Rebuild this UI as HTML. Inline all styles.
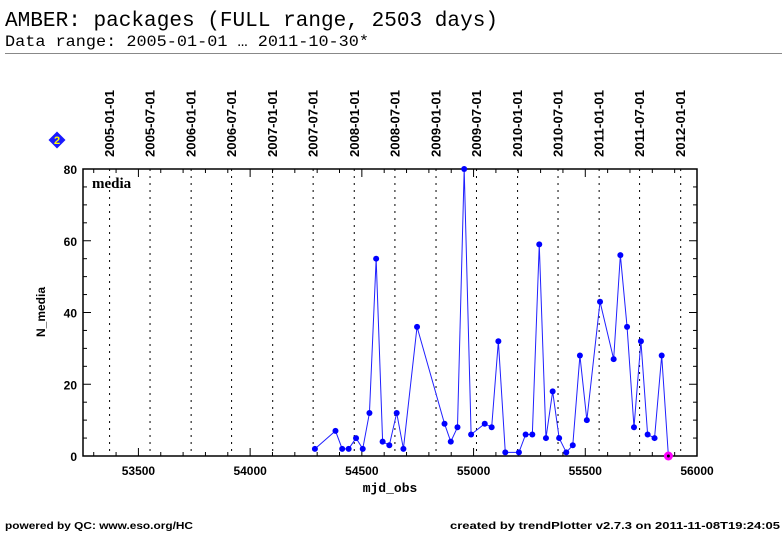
<!DOCTYPE html>
<html><head><meta charset="utf-8"><style>
html,body{margin:0;padding:0;background:#fff;}
svg{display:block;}
</style></head><body>
<svg id="chart" width="782" height="542" xmlns="http://www.w3.org/2000/svg">
<text x="5" y="26" font-family="Liberation Mono, monospace" font-size="21" textLength="493" lengthAdjust="spacingAndGlyphs">AMBER: packages (FULL range, 2503 days)</text>
<text x="5" y="46" font-family="Liberation Mono, monospace" font-size="16" textLength="364" lengthAdjust="spacingAndGlyphs">Data range: 2005-01-01 … 2011-10-30*</text>
<line x1="5" y1="53.5" x2="782" y2="53.5" stroke="#888" stroke-width="1"/>
<g>
<rect x="51" y="134" width="12" height="12" fill="#1a1aff" transform="rotate(45 57 140)"/>
<text x="57" y="144" text-anchor="middle" font-family="Liberation Sans, sans-serif" font-weight="bold" font-size="11" fill="#ff0">2</text>
</g>
<g id="grid"></g>
<g id="axes"></g>
<g id="series"></g>
<text x="92" y="188" font-family="Liberation Serif, serif" font-weight="bold" font-size="15">media</text>
<text x="45" y="312" transform="rotate(-90 45 312)" text-anchor="middle" font-family="Liberation Sans, sans-serif" font-weight="bold" font-size="12">N_media</text>
<text x="390" y="492" text-anchor="middle" font-family="Liberation Mono, monospace" font-weight="bold" font-size="13">mjd_obs</text>
<text x="5" y="529" font-family="Liberation Sans, sans-serif" font-weight="bold" font-size="10" textLength="188" lengthAdjust="spacingAndGlyphs">powered by QC: www.eso.org/HC</text>
<text x="450" y="529" font-family="Liberation Sans, sans-serif" font-weight="bold" font-size="10" textLength="330" lengthAdjust="spacingAndGlyphs">created by trendPlotter v2.7.3 on 2011-11-08T19:24:05</text>
</svg>
<script>
const mjd = [54290,54382,54412,54441,54474,54504,54534,54564,54593,54623,54656,54686,54747,54870,54898,54928,54958,54989,55050,55081,55111,55142,55203,55233,55263,55294,55324,55354,55383,55415,55444,55476,55507,55566,55627,55657,55687,55718,55749,55779,55810,55842,55872];
const nMedia = [2,7,2,2,5,2,12,55,4,3,12,2,36,9,4,8,80,6,9,8,32,1,1,6,6,59,5,18,5,1,3,28,10,43,27,56,36,8,32,6,5,28,0];
const dateLabels = ["2005-01-01","2005-07-01","2006-01-01","2006-07-01","2007-01-01","2007-07-01","2008-01-01","2008-07-01","2009-01-01","2009-07-01","2010-01-01","2010-07-01","2011-01-01","2011-07-01","2012-01-01"];
const dateMjd = [53371,53552,53736,53917,54101,54282,54466,54648,54832,55013,55197,55378,55562,55743,55927];
const xTicks = [53500,54000,54500,55000,55500,56000];
const yTicks = [0,20,40,60,80];

const NS="http://www.w3.org/2000/svg";
const L=83,R=697,T=169,B=456,XMIN=53252,XMAX=56000,YMIN=0,YMAX=80;
const sx=v=>L+(v-XMIN)/(XMAX-XMIN)*(R-L);
const sy=v=>B-(v-YMIN)/(YMAX-YMIN)*(B-T);
function mk(tag,attrs,parent){const e=document.createElementNS(NS,tag);for(const k in attrs)e.setAttribute(k,attrs[k]);parent.appendChild(e);return e;}
const grid=document.getElementById('grid'),axes=document.getElementById('axes'),series=document.getElementById('series');

dateMjd.forEach((d,i)=>{
  const x=sx(d);
  if(x<=R){
    const g=mk('line',{x1:x,y1:T,x2:x,y2:B,stroke:'#000','stroke-width':1,'stroke-dasharray':'2,5'},grid);
    
    
  }
  const t=mk('text',{x:0,y:0,transform:`translate(${x+4.5},157) rotate(-90)`,'font-family':'Liberation Sans, sans-serif','font-weight':'bold','font-size':'12.5',textLength:'67',lengthAdjust:'spacingAndGlyphs'},grid);
  t.textContent=dateLabels[i];
  
  
});

const frame=mk('rect',{x:L,y:T,width:R-L,height:B-T,fill:'none',stroke:'#000','stroke-width':1.5},axes);



for(let v=53300;v<=56000;v+=100){
  const x=sx(v);const major=v%500===0;const len=major?8:4;
  mk('line',{x1:x,y1:B,x2:x,y2:B-len,stroke:'#000','stroke-width':1},axes);
  mk('line',{x1:x,y1:T,x2:x,y2:T+len,stroke:'#000','stroke-width':1},axes);
}
xTicks.forEach(v=>{
  const t=mk('text',{x:sx(v),y:475,'text-anchor':'middle','font-family':'Liberation Sans, sans-serif','font-weight':'bold','font-size':'12'},axes);
  t.textContent=v;
  
  
});
for(let v=0;v<=80;v+=5){
  const y=sy(v);const major=v%20===0;const len=major?8:4;
  mk('line',{x1:L,y1:y,x2:L+len,y2:y,stroke:'#000','stroke-width':1},axes);
  mk('line',{x1:R,y1:y,x2:R-len,y2:y,stroke:'#000','stroke-width':1},axes);
}
yTicks.forEach(v=>{
  const t=mk('text',{x:77,y:sy(v)+5,'text-anchor':'end','font-family':'Liberation Sans, sans-serif','font-weight':'bold','font-size':'12'},axes);
  t.textContent=v;
  
  
});

const pts=mjd.map((d,i)=>sx(d)+','+sy(nMedia[i])).join(' ');
const line=mk('polyline',{points:pts,fill:'none',stroke:'#2020ff','stroke-width':1},series);


mjd.forEach((d,i)=>{
  const last=i===mjd.length-1;
  const c=mk('circle',{cx:sx(d),cy:sy(nMedia[i]),r:last?4.5:3,fill:last?'#ff00ff':'#0000ff'},series);
  
  
  if(last){mk('circle',{cx:sx(d),cy:sy(nMedia[i]),r:1.5,fill:'#000'},series);}
});
</script>
</body></html>
